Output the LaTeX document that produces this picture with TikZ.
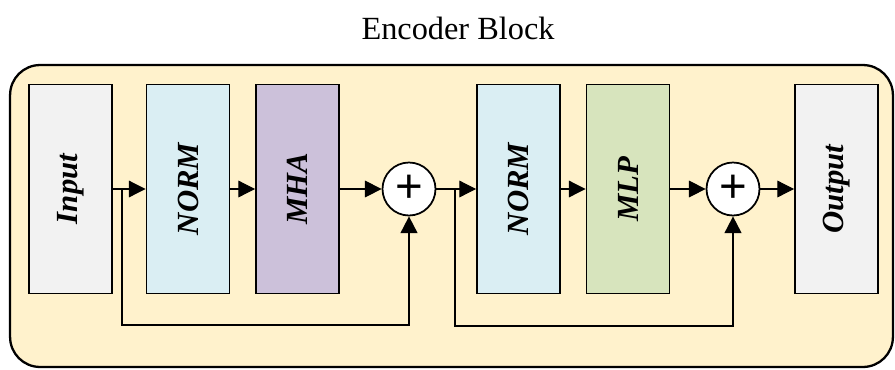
\documentclass[tikz,border=0pt]{standalone}
\usepackage{fontspec}
\setmainfont{Liberation Serif}
\newfontfamily\plusfont{Liberation Sans}
\usetikzlibrary{positioning,arrows.meta}

\definecolor{encfill}{HTML}{FFF2CC}
\definecolor{iofill}{HTML}{F2F2F2}
\definecolor{normfill}{HTML}{DAEEF3}
\definecolor{mhafill}{HTML}{CCC1DA}
\definecolor{mlpfill}{HTML}{D7E4BD}

\begin{document}
\begin{tikzpicture}[x=0.02cm, y=-0.02cm,
  layer/.style={draw, line width=1.1pt, minimum width=1.66cm, minimum height=4.18cm,
    inner sep=0pt, font=\fontsize{17.5}{20}\selectfont\bfseries\itshape},
  addop/.style={circle, draw, line width=1pt, fill=white, minimum size=1.06cm,
    inner sep=0pt, font=\plusfont\fontsize{27}{27}\selectfont},
  flow/.style={-{Triangle[length=9.5pt, width=9.5pt]}, line width=0.6pt},
  skip/.style={-{Triangle[length=9.5pt, width=9.5pt]}, line width=1.1pt}]
\useasboundingbox (0,0) rectangle (895,369);
% Title
\node[font=\fontsize{18.4}{21}\selectfont] (title) at (458,28) {Encoder Block};
% Encoder frame
\node[draw, line width=1.3pt, rounded corners=0.6cm, fill=encfill,
  minimum width=17.66cm, minimum height=6.04cm] (enc) at (451.5,216) {};
% Blocks
\node[layer, fill=iofill] (inp) at (70.5,189) {\rotatebox{90}{Input}};
\node[layer, fill=normfill] (norm1) at (188,189) {\rotatebox{90}{NORM}};
\node[layer, fill=mhafill] (mha) at (297.5,189) {\rotatebox{90}{MHA}};
\node[addop] (add1) at (409,189) {+};
\node[layer, fill=normfill] (norm2) at (518.5,189) {\rotatebox{90}{NORM}};
\node[layer, fill=mlpfill] (mlp) at (628,189) {\rotatebox{90}{MLP}};
\node[addop] (add2) at (733,189) {+};
\node[layer, fill=iofill] (outp) at (836.5,189) {\rotatebox{90}{Output}};
% Main path
\draw[flow] (inp) -- (norm1);
\draw[flow] (norm1) -- (mha);
\draw[flow] (mha) -- (add1);
\draw[flow] (add1) -- (norm2);
\draw[flow] (norm2) -- (mlp);
\draw[flow] (mlp) -- (add2);
\draw[flow] (add2) -- (outp);
% Residual connections
\coordinate (split1) at (122,189);
\coordinate (split2) at (455,189);
\draw[skip] (split1) -- ++(0,136) -| (add1);
\draw[skip] (split2) -- ++(0,137) -| (add2);
\end{tikzpicture}
\end{document}
